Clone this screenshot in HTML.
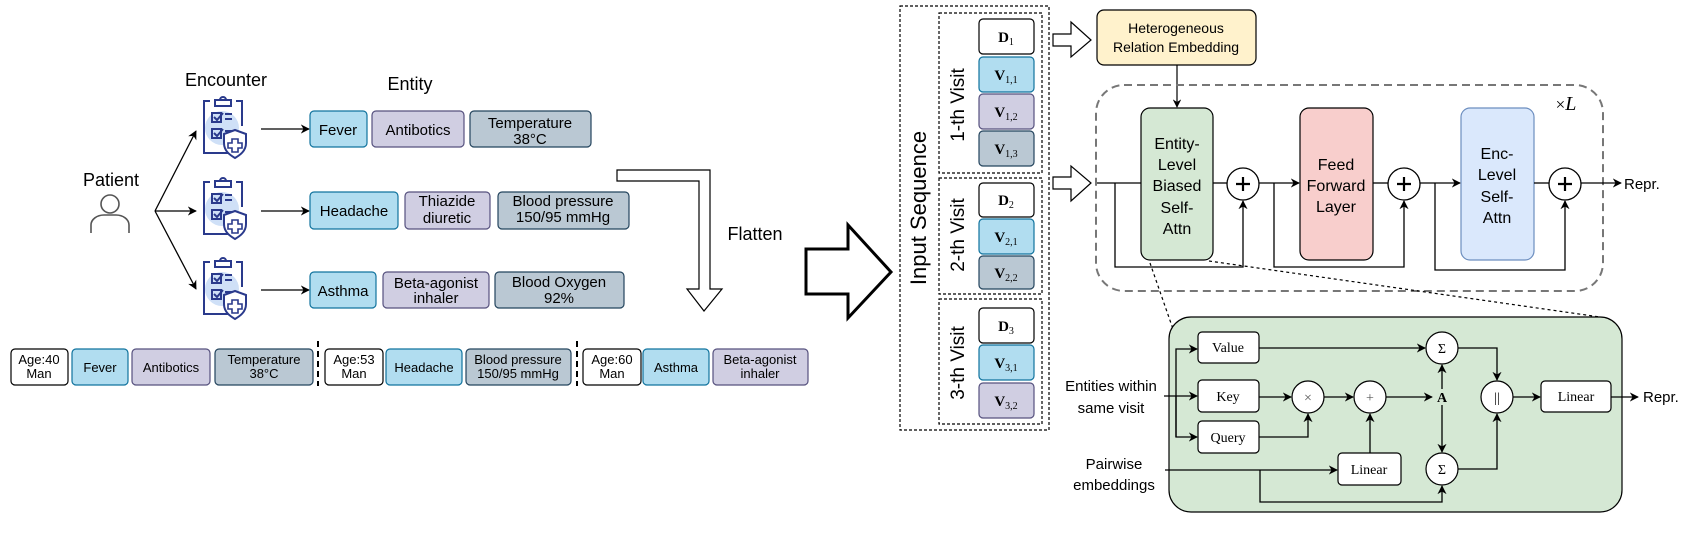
<!DOCTYPE html>
<html><head><meta charset="utf-8"><style>
html,body{margin:0;padding:0;background:#fff;}
svg{display:block;font-family:"Liberation Sans",sans-serif;}
.s{font-family:"Liberation Serif",serif;}
</style></head><body>
<svg width="1702" height="543" viewBox="0 0 1702 543" xmlns="http://www.w3.org/2000/svg">
<defs>
<marker id="a" viewBox="0 0 10 10" refX="9" refY="5" markerWidth="7" markerHeight="7" orient="auto"><path d="M0,0 L10,5 L0,10 L3,5 z" fill="#000"/></marker>
<g id="clip">
<circle cx="20" cy="32" r="17" fill="#cfe0f7"/>
<path d="M8,5 H2 V57 H30" fill="none" stroke="#2a3a8c" stroke-width="2"/>
<path d="M34,5 H40 V30" fill="none" stroke="#2a3a8c" stroke-width="2"/>
<rect x="13" y="4" width="16" height="6" fill="#fff" stroke="#2a3a8c" stroke-width="2"/>
<path d="M18,4 a3,3 0 0 1 6,0" fill="none" stroke="#2a3a8c" stroke-width="2"/>
<rect x="10" y="17" width="9" height="9" fill="none" stroke="#2a3a8c" stroke-width="2"/>
<path d="M12,21 l3,3 l6,-7" fill="none" stroke="#2a3a8c" stroke-width="2"/>
<path d="M23,18 h7 M23,23 h7" stroke="#2a3a8c" stroke-width="2"/>
<rect x="10" y="33" width="9" height="9" fill="none" stroke="#2a3a8c" stroke-width="2"/>
<path d="M12,37 l3,3 l6,-7" fill="none" stroke="#2a3a8c" stroke-width="2"/>
<path d="M23,35 h7" stroke="#2a3a8c" stroke-width="2"/>
<path d="M44,38 l-11,-4 l-11,4 v9 c0,8 6,12 11,15 c5,-3 11,-7 11,-15z" fill="#fff" stroke="#2a3a8c" stroke-width="2"/>
<path d="M30,43 h6 v4 h4 v5 h-4 v4 h-6 v-4 h-4 v-5 h4z" fill="none" stroke="#2a3a8c" stroke-width="1.6"/>
</g>
</defs>

<!-- LEFT -->
<g font-size="18" text-anchor="middle">
<text x="226" y="86">Encounter</text>
<text x="410" y="90">Entity</text>
<text x="111" y="186">Patient</text>
</g>
<circle cx="110" cy="204" r="9" fill="none" stroke="#555" stroke-width="1.6"/>
<path d="M91,233 v-8 a13,10 0 0 1 13,-10 h12 a13,10 0 0 1 13,10 v8" fill="none" stroke="#555" stroke-width="1.6"/>
<g stroke="#000" stroke-width="1.3" fill="none" marker-end="url(#a)">
<path d="M155,211 L196,131"/><path d="M155,211 L196,211"/><path d="M155,211 L196,289"/>
<path d="M261,129 H309"/><path d="M261,211 H309"/><path d="M261,290 H309"/>
</g>
<use href="#clip" x="202" y="96"/>
<use href="#clip" x="202" y="177"/>
<use href="#clip" x="202" y="257"/>

<g stroke-width="1.2" font-size="15" text-anchor="middle">
<rect x="310" y="111" width="57" height="36" rx="4" fill="#b1ddf0" stroke="#10739e"/>
<rect x="372" y="111" width="92" height="36" rx="4" fill="#d0cee2" stroke="#56517e"/>
<rect x="470" y="111" width="121" height="36" rx="4" fill="#bac8d3" stroke="#23445d"/>
<rect x="310" y="192" width="88" height="37" rx="4" fill="#b1ddf0" stroke="#10739e"/>
<rect x="405" y="192" width="85" height="37" rx="4" fill="#d0cee2" stroke="#56517e"/>
<rect x="498" y="192" width="131" height="37" rx="4" fill="#bac8d3" stroke="#23445d"/>
<rect x="310" y="272" width="66" height="36" rx="4" fill="#b1ddf0" stroke="#10739e"/>
<rect x="383" y="272" width="106" height="36" rx="4" fill="#d0cee2" stroke="#56517e"/>
<rect x="495" y="272" width="129" height="36" rx="4" fill="#bac8d3" stroke="#23445d"/>
<text x="338" y="135">Fever</text><text x="418" y="135">Antibotics</text>
<text x="530" y="128">Temperature</text><text x="530" y="144">38°C</text>
<text x="354" y="216">Headache</text>
<text x="447" y="206">Thiazide</text><text x="447" y="223">diuretic</text>
<text x="563" y="206">Blood pressure</text><text x="563" y="222">150/95 mmHg</text>
<text x="343" y="296">Asthma</text>
<text x="436" y="288">Beta-agonist</text><text x="436" y="303">inhaler</text>
<text x="559" y="287">Blood Oxygen</text><text x="559" y="303">92%</text>
</g>

<!-- flatten arrow -->
<path d="M617,170 H710 V289 H722 L704,311 L687,289 H699 V181 H617 Z" fill="#fff" stroke="#000" stroke-width="1.2"/>
<text x="755" y="240" font-size="18" text-anchor="middle">Flatten</text>

<!-- big arrow -->
<path d="M806,249 H848 V225 L891,272 L848,318 V294 H806 Z" fill="#fff" stroke="#000" stroke-width="3"/>

<!-- bottom row -->
<g stroke-width="1.2" font-size="13" text-anchor="middle">
<rect x="11" y="349" width="57" height="36" rx="4" fill="#fff" stroke="#000"/>
<rect x="72" y="349" width="56" height="36" rx="4" fill="#b1ddf0" stroke="#10739e"/>
<rect x="132" y="349" width="78" height="36" rx="4" fill="#d0cee2" stroke="#56517e"/>
<rect x="215" y="349" width="98" height="36" rx="4" fill="#bac8d3" stroke="#23445d"/>
<rect x="325" y="349" width="58" height="36" rx="4" fill="#fff" stroke="#000"/>
<rect x="386" y="349" width="76" height="36" rx="4" fill="#b1ddf0" stroke="#10739e"/>
<rect x="466" y="349" width="105" height="36" rx="4" fill="#bac8d3" stroke="#23445d"/>
<rect x="583" y="349" width="58" height="36" rx="4" fill="#fff" stroke="#000"/>
<rect x="643" y="349" width="66" height="36" rx="4" fill="#b1ddf0" stroke="#10739e"/>
<rect x="713" y="349" width="95" height="36" rx="4" fill="#d0cee2" stroke="#56517e"/>
<text x="39" y="364">Age:40</text><text x="39" y="378">Man</text>
<text x="100" y="372">Fever</text><text x="171" y="372">Antibotics</text>
<text x="264" y="364">Temperature</text><text x="264" y="378">38°C</text>
<text x="354" y="364">Age:53</text><text x="354" y="378">Man</text>
<text x="424" y="372">Headache</text>
<text x="518" y="364">Blood pressure</text><text x="518" y="378">150/95 mmHg</text>
<text x="612" y="364">Age:60</text><text x="612" y="378">Man</text>
<text x="676" y="372">Asthma</text>
<text x="760" y="364">Beta-agonist</text><text x="760" y="378">inhaler</text>
</g>
<g stroke="#000" stroke-width="2" stroke-dasharray="6,4"><path d="M318,341 V386"/><path d="M577,341 V386"/></g>

<!-- RIGHT: input sequence -->
<g fill="none" stroke="#000" stroke-width="1.2" stroke-dasharray="3,2">
<rect x="900" y="6" width="149" height="424"/>
<rect x="939" y="13" width="103" height="160"/>
<rect x="939" y="178" width="103" height="116"/>
<rect x="939" y="299" width="103" height="125"/>
</g>
<text transform="translate(926,208) rotate(-90)" font-size="22" text-anchor="middle">Input Sequence</text>
<g font-size="19" text-anchor="middle">
<text transform="translate(964,105) rotate(-90)">1-th Visit</text>
<text transform="translate(964,235) rotate(-90)">2-th Visit</text>
<text transform="translate(964,363) rotate(-90)">3-th Visit</text>
</g>
<g stroke-width="1.2">
<rect x="979" y="19" width="55" height="35" rx="4" fill="#fff" stroke="#000"/>
<rect x="979" y="57" width="55" height="35" rx="4" fill="#b1ddf0" stroke="#10739e"/>
<rect x="979" y="94" width="55" height="35" rx="4" fill="#d0cee2" stroke="#56517e"/>
<rect x="979" y="131" width="55" height="35" rx="4" fill="#bac8d3" stroke="#23445d"/>
<rect x="979" y="183" width="55" height="34" rx="4" fill="#fff" stroke="#000"/>
<rect x="979" y="219" width="55" height="35" rx="4" fill="#b1ddf0" stroke="#10739e"/>
<rect x="979" y="256" width="55" height="33" rx="4" fill="#bac8d3" stroke="#23445d"/>
<rect x="979" y="308" width="55" height="35" rx="4" fill="#fff" stroke="#000"/>
<rect x="979" y="345" width="55" height="35" rx="4" fill="#b1ddf0" stroke="#10739e"/>
<rect x="979" y="383" width="55" height="35" rx="4" fill="#d0cee2" stroke="#56517e"/>
</g>
<g class="s" font-size="15" font-weight="bold" text-anchor="middle">
<text x="1006" y="42">D<tspan font-size="10" font-weight="normal" dy="3">1</tspan></text>
<text x="1006" y="80">V<tspan font-size="10" font-weight="normal" dy="3">1,1</tspan></text>
<text x="1006" y="117">V<tspan font-size="10" font-weight="normal" dy="3">1,2</tspan></text>
<text x="1006" y="154">V<tspan font-size="10" font-weight="normal" dy="3">1,3</tspan></text>
<text x="1006" y="205">D<tspan font-size="10" font-weight="normal" dy="3">2</tspan></text>
<text x="1006" y="242">V<tspan font-size="10" font-weight="normal" dy="3">2,1</tspan></text>
<text x="1006" y="278">V<tspan font-size="10" font-weight="normal" dy="3">2,2</tspan></text>
<text x="1006" y="331">D<tspan font-size="10" font-weight="normal" dy="3">3</tspan></text>
<text x="1006" y="368">V<tspan font-size="10" font-weight="normal" dy="3">3,1</tspan></text>
<text x="1006" y="406">V<tspan font-size="10" font-weight="normal" dy="3">3,2</tspan></text>
</g>

<!-- hollow arrows -->
<path d="M1053,34 H1071 V22 L1091,40 L1071,57 V46 H1053 Z" fill="#fff" stroke="#000" stroke-width="1.2"/>
<path d="M1053,177 H1071 V166 L1091,183 L1071,201 V189 H1053 Z" fill="#fff" stroke="#000" stroke-width="1.2"/>

<!-- HRE -->
<rect x="1097" y="10" width="159" height="55" rx="7" fill="#fff2cc" stroke="#000" stroke-width="1.2"/>
<text x="1176" y="33" font-size="14" text-anchor="middle">Heterogeneous</text>
<text x="1176" y="52" font-size="14" text-anchor="middle">Relation Embedding</text>
<path d="M1177,65 V107" stroke="#000" stroke-width="1.2" marker-end="url(#a)"/>

<!-- dashed layer box -->
<rect x="1096" y="85" width="507" height="206" rx="28" fill="none" stroke="#777" stroke-width="2" stroke-dasharray="8,5"/>
<text x="1566" y="110" font-size="20" text-anchor="middle" class="s"><tspan font-size="17">×</tspan><tspan font-style="italic">L</tspan></text>

<rect x="1141" y="108" width="72" height="152" rx="9" fill="#d5e8d4" stroke="#000" stroke-width="1.2"/>
<rect x="1300" y="108" width="73" height="152" rx="9" fill="#f8cecc" stroke="#000" stroke-width="1.2"/>
<rect x="1461" y="108" width="73" height="152" rx="9" fill="#dae8fc" stroke="#6c8ebf" stroke-width="1.2"/>
<g font-size="16" text-anchor="middle">
<text x="1177" y="149">Entity-</text><text x="1177" y="170">Level</text><text x="1177" y="191">Biased</text><text x="1177" y="213">Self-</text><text x="1177" y="234">Attn</text>
<text x="1336" y="170">Feed</text><text x="1336" y="191">Forward</text><text x="1336" y="212">Layer</text>
<text x="1497" y="159">Enc-</text><text x="1497" y="180">Level</text><text x="1497" y="202">Self-</text><text x="1497" y="223">Attn</text>
</g>
<g stroke="#000" stroke-width="1.3" fill="none">
<path d="M1097,183 H1141"/><path d="M1213,183 H1228"/>
<path d="M1115,183 V267 H1243 V201" marker-end="url(#a)"/>
<path d="M1259,183 H1299" marker-end="url(#a)"/>
<path d="M1274,183 V267 H1404 V201" marker-end="url(#a)"/>
<path d="M1373,183 H1388"/>
<path d="M1420,183 H1460" marker-end="url(#a)"/>
<path d="M1435,183 V270 H1565 V201" marker-end="url(#a)"/>
<path d="M1534,183 H1549"/>
<path d="M1581,183 H1621" marker-end="url(#a)"/>
</g>
<g fill="#fff" stroke="#000" stroke-width="1.3">
<circle cx="1243" cy="184" r="16"/><circle cx="1404" cy="184" r="16"/><circle cx="1565" cy="184" r="16"/>
</g>
<g stroke="#000" stroke-width="2.2">
<path d="M1236,184 h14 M1243,177 v14"/><path d="M1397,184 h14 M1404,177 v14"/><path d="M1558,184 h14 M1565,177 v14"/>
</g>
<text x="1624" y="189" font-size="15">Repr.</text>

<!-- dotted zoom lines -->
<g stroke="#000" stroke-width="1.2" stroke-dasharray="3,3"><path d="M1150,263 L1173,329"/><path d="M1209,261 L1600,317"/></g>

<!-- lower green box -->
<rect x="1169" y="317" width="453" height="195" rx="22" fill="#d5e8d4" stroke="#000" stroke-width="1.2"/>
<g fill="#fff" stroke="#000" stroke-width="1.2">
<rect x="1198" y="332" width="61" height="31" rx="4"/>
<rect x="1198" y="380" width="61" height="32" rx="4"/>
<rect x="1198" y="421" width="61" height="32" rx="4"/>
<rect x="1338" y="453" width="63" height="32" rx="4"/>
<rect x="1541" y="381" width="70" height="31" rx="4"/>
<circle cx="1308" cy="397" r="16"/><circle cx="1370" cy="397" r="16"/>
<circle cx="1442" cy="348" r="16"/><circle cx="1442" cy="469" r="16"/>
<circle cx="1497" cy="397" r="16"/>
</g>
<g class="s" font-size="14" text-anchor="middle">
<text x="1228" y="352">Value</text><text x="1228" y="401">Key</text><text x="1228" y="442">Query</text>
<text x="1369" y="474">Linear</text><text x="1576" y="401">Linear</text>
<text x="1308" y="402" fill="#555">×</text><text x="1370" y="402" fill="#555">+</text>
<text x="1442" y="353">Σ</text><text x="1442" y="474">Σ</text>
<text x="1497" y="402">||</text>
<text x="1442" y="402" font-weight="bold">A</text>
</g>
<g stroke="#000" stroke-width="1.3" fill="none">
<path d="M1164,396 H1197" marker-end="url(#a)"/>
<path d="M1176,437 V349 H1197" marker-end="url(#a)"/>
<path d="M1176,396 V437 H1197" marker-end="url(#a)"/>
<path d="M1259,348 H1425" marker-end="url(#a)"/>
<path d="M1259,397 H1291" marker-end="url(#a)"/>
<path d="M1259,437 H1308 V414" marker-end="url(#a)"/>
<path d="M1324,397 H1353" marker-end="url(#a)"/>
<path d="M1386,397 H1432" marker-end="url(#a)"/>
<path d="M1370,453 V414" marker-end="url(#a)"/>
<path d="M1442,389 V365" marker-end="url(#a)"/>
<path d="M1442,405 V452" marker-end="url(#a)"/>
<path d="M1458,348 H1497 V380" marker-end="url(#a)"/>
<path d="M1458,469 H1497 V414" marker-end="url(#a)"/>
<path d="M1513,397 H1540" marker-end="url(#a)"/>
<path d="M1611,397 H1638" marker-end="url(#a)"/>
<path d="M1165,470 H1337" marker-end="url(#a)"/>
<path d="M1260,470 V502 H1442 V486" marker-end="url(#a)"/>
</g>
<g font-size="15" text-anchor="middle">
<text x="1111" y="391">Entities within</text><text x="1111" y="413">same visit</text>
<text x="1114" y="469">Pairwise</text><text x="1114" y="490">embeddings</text>
</g>
<text x="1643" y="402" font-size="15">Repr.</text>
</svg>
</body></html>
